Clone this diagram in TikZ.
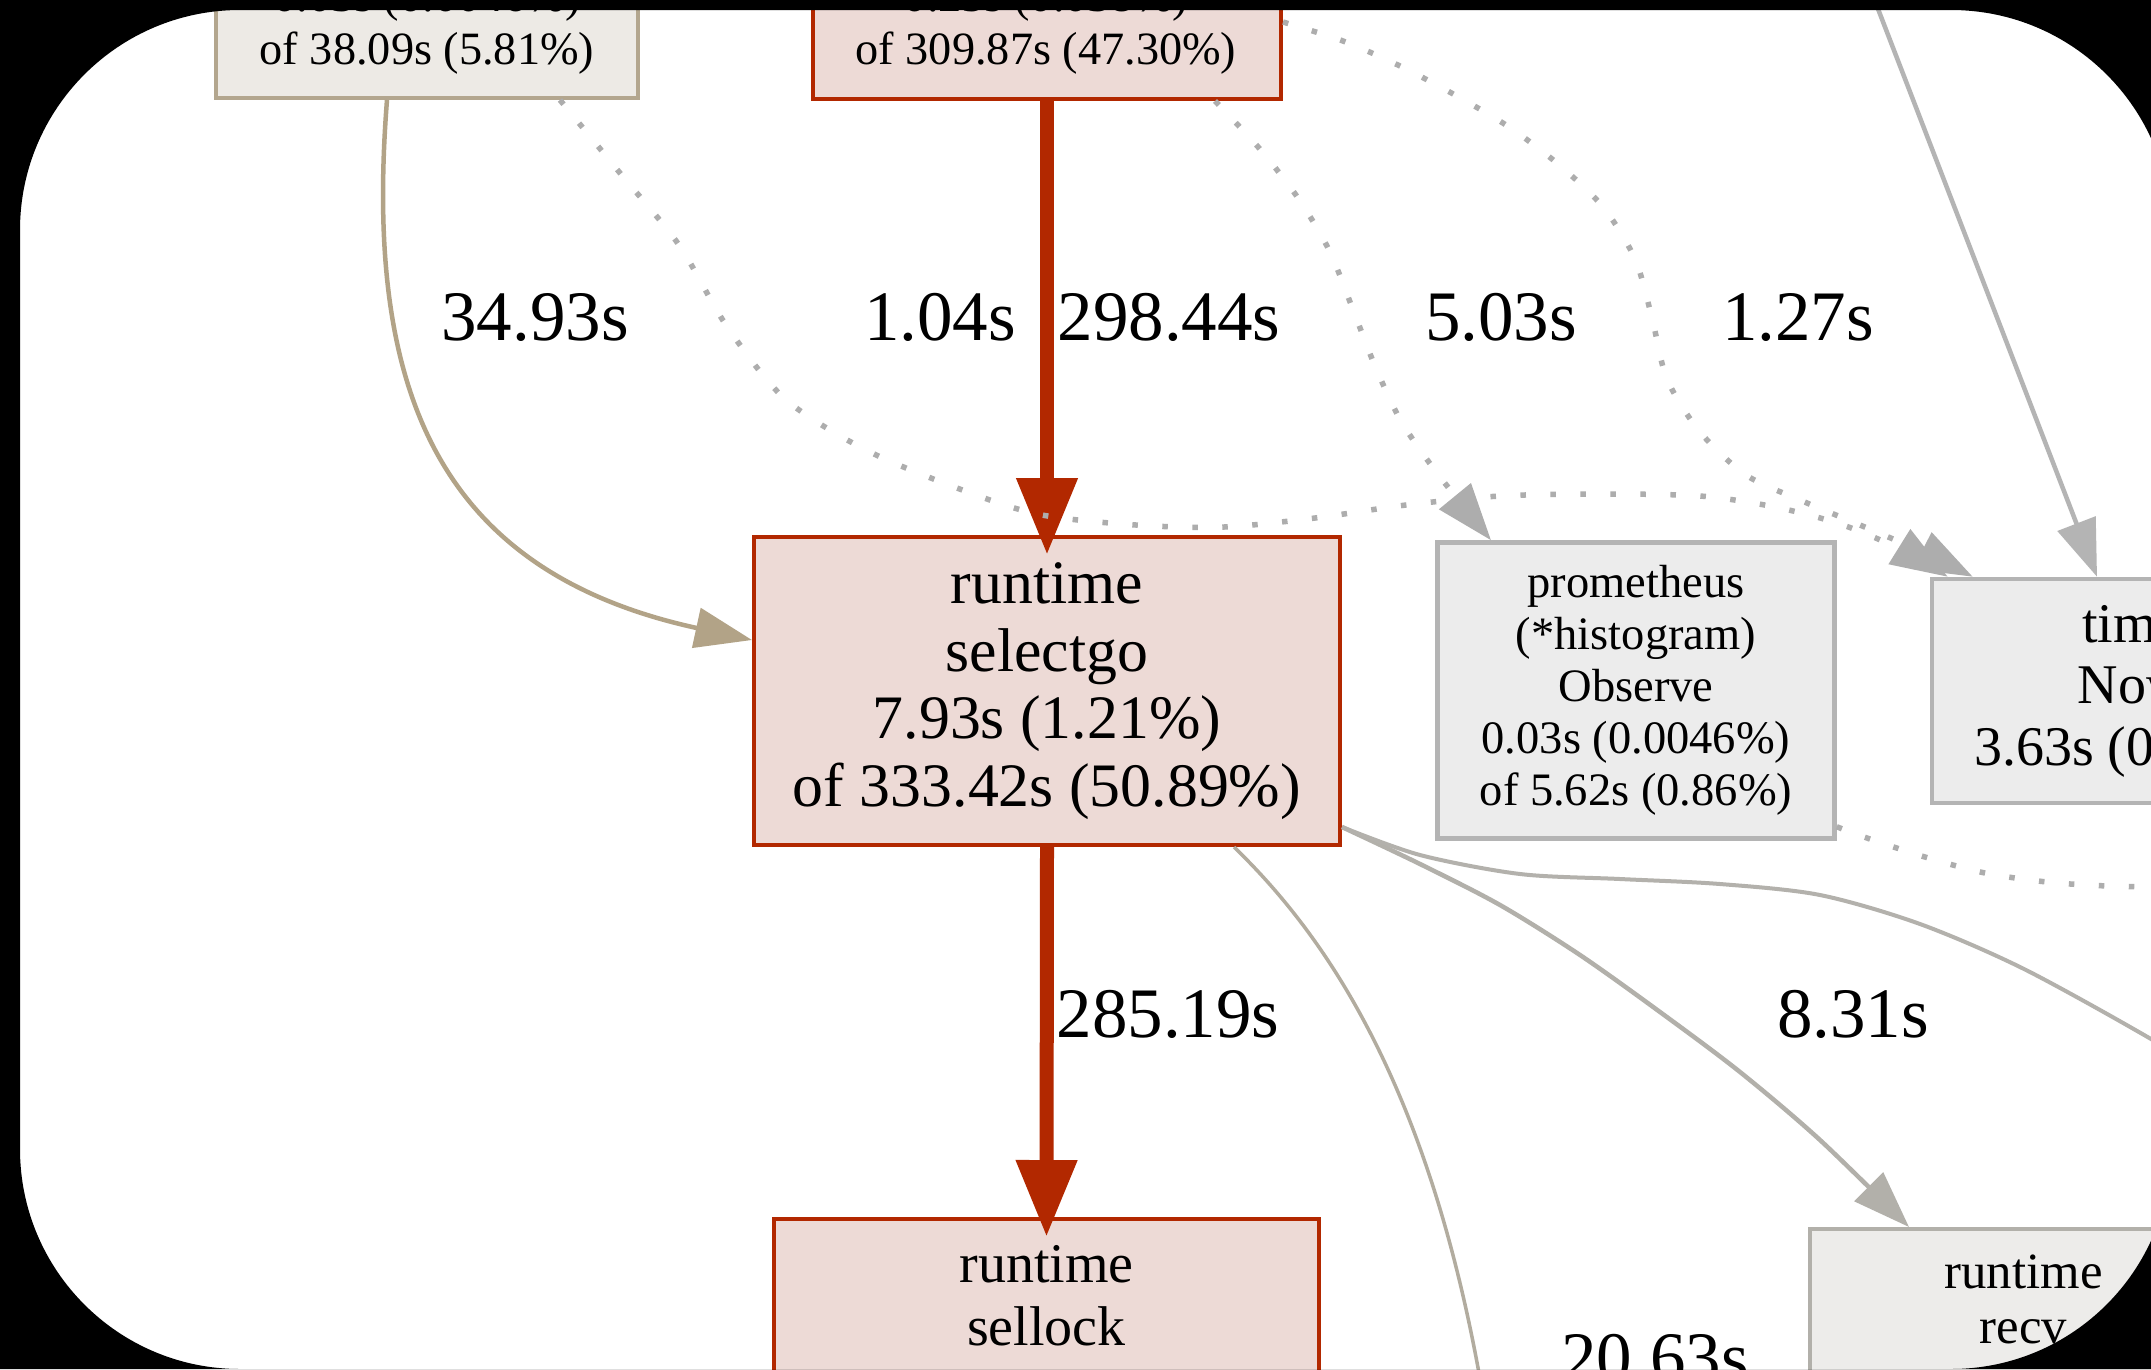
\documentclass[tikz,border=0pt]{standalone}
\usepackage{fontspec}
\setmainfont{Liberation Serif}
\usetikzlibrary{arrows.meta,calc}
\definecolor{hotred}{HTML}{B22800}
\definecolor{hotfill}{HTML}{EDDAD6}
\definecolor{tanline}{HTML}{B2A387}
\definecolor{tanborder}{HTML}{B3A68E}
\definecolor{tanfill}{HTML}{EDEAE5}
\definecolor{graytan}{HTML}{B2AC9F}
\definecolor{grayline}{HTML}{B2B0AA}
\definecolor{grayline2}{HTML}{B3B1AC}
\definecolor{lgray}{HTML}{B4B4B4}
\definecolor{dotgray}{HTML}{ADADAD}
\definecolor{grayfill}{HTML}{ECECEC}
\definecolor{recvfill}{HTML}{EDECEA}
\newcommand{\fsz}[2]{\fontsize{#1pt}{#2pt}\selectfont}
\begin{document}
\begin{tikzpicture}[x=1pt,y=-1pt,
  box/.style={rectangle, draw, inner sep=0pt, align=center},
  redbox/.style={box, draw=hotred, fill=hotfill, line width=4pt},
  tanbox/.style={box, draw=tanborder, fill=tanfill, line width=4pt},
  graybox/.style={box, draw=lgray, fill=grayfill, line width=4.5pt},
  recvbox/.style={box, draw=grayline, fill=recvfill, line width=4pt},
  txt/.style={inner sep=0pt, align=center},
  elabel/.style={inner sep=0pt, anchor=base, font=\fsz{71}{80}},
  hotedge/.style={draw=hotred, line width=14pt, -{Triangle[length=77pt,width=58pt]}, shorten >=-20pt},
  headg/.style={-{Triangle[length=57pt,width=40pt]}},
  dotedge/.style={draw=dotgray, line width=5.5pt, dash pattern=on 5.5pt off 24.5pt},
]
\useasboundingbox (0,0) rectangle (2151,1369);
\clip (0,0) rectangle (2151,1369);
\fill[white] (0,0) rectangle (2151,1369);

% ---------- nodes ----------
\node[tanbox, minimum width=422pt, minimum height=296pt] (tlbox) at (427,-50) {};
\node[txt, anchor=south, font=\fsz{46.3}{53}] (tltext) at (427,74.5) {0.03s (0.0046\%)\\of 38.09s (5.81\%)};

\node[redbox, minimum width=468pt, minimum height=296pt] (topC) at (1047,-49) {};
\node[txt, anchor=south, font=\fsz{46.3}{53}] (topCtext) at (1046,74.5) {0.25s (0.038\%)\\of 309.87s (47.30\%)};

\node[redbox, minimum width=586pt, minimum height=308pt, font=\fsz{61.8}{67.7}] (sel) at (1047,691)
  {runtime\\selectgo\\7.93s (1.21\%)\\of 333.42s (50.89\%)};

\node[graybox, minimum width=397pt, minimum height=296pt, font=\fsz{46.5}{52}] (prom) at (1636,690.5)
  {prometheus\\(*histogram)\\Observe\\0.03s (0.0046\%)\\of 5.62s (0.86\%)};

\node[graybox, minimum width=400pt, minimum height=224pt, font=\fsz{56}{61.5}] (tnow) at (2132,691)
  {time\\Now\\3.63s (0.55\%)};

\node[redbox, minimum width=545pt, minimum height=300pt] (sellock) at (1046.5,1369) {};
\node[txt, anchor=north, font=\fsz{56}{63}] (sellocktext) at (1046.5,1245) {runtime\\sellock};

\node[recvbox, minimum width=427pt, minimum height=300pt] (recv) at (2023.5,1379) {};
\node[txt, anchor=north, font=\fsz{50.8}{55}] (recvtext) at (2023.5,1254.5) {runtime\\recv};

% ---------- connector end points ----------
\coordinate (e1s) at ([xshift=-40pt]tlbox.south);
\coordinate (e1e) at ([yshift=-105pt]sel.north west);
\coordinate (e4s) at ([xshift=133pt]tlbox.south);
\coordinate (e4e) at ([xshift=18pt]tnow.north west);
\coordinate (e5s) at ([xshift=168pt]topC.south);
\coordinate (e5e) at ([xshift=-145pt]prom.north);
\coordinate (e6s) at ([yshift=79pt]topC.south east);
\coordinate (e6e) at ([xshift=43pt]tnow.north west);
\coordinate (e7e) at ([xshift=-35pt]tnow.north);
\coordinate (offTop) at (1836,-100);
\coordinate (e8s) at ([yshift=14pt]prom.south east);
\coordinate (offR1) at (2200,888);
\coordinate (e9s) at ([yshift=20pt]sel.south east);
\coordinate (e9e) at ([xshift=-114.5pt]recv.north);
\coordinate (offR2) at (2200,1072);
\coordinate (e11s) at ([xshift=187pt]sel.south);
\coordinate (offB) at (1490,1440);

% ---------- connectors ----------
\draw[hotedge] (topC.south) -- (sel.north);
\draw[hotedge] (sel.south) -- (sellock.north);

\draw[tanline, line width=4.5pt, headg] (e1s) .. controls (365,380) and (430,570) .. (e1e);

\draw[dotedge, headg] plot[smooth] coordinates
  {(e4s) (620,173) (679,245) (726,325) (784,398) (862,448) (949,485) (1037,514)
   (1136,525) (1224,527) (1315,518) (1406,505) (1500,496) (1600,494) (1700,496) (1775,507) (1840,524) (1900,549) (e4e)};

\draw[dotedge, headg] plot[smooth] coordinates
  {(e5s) (1259,148) (1298,198) (1329,250) (1352,307) (1375,366) (1401,421) (1437,473) (e5e)};

\draw[dotedge, headg] plot[smooth] coordinates
  {(e6s) (1343,41) (1400,66) (1455,95) (1509,127) (1558,164) (1603,207) (1635,259)
   (1652,318) (1667,379) (1700,432) (1746,475) (1800,500) (1860,525) (1925,553) (e6e)};

\draw[lgray, line width=4.5pt, headg] (offTop) -- (e7e);

\draw[dotedge] plot[smooth] coordinates
  {(e8s) (1867,838) (1925,857) (1985,873) (2047,882) (2108,886) (offR1)};

\draw[grayline, line width=4.5pt, headg] plot[smooth] coordinates
  {(e9s) (1420,864) (1500,905) (1580,955) (1660,1012) (1740,1072) (1820,1140) (e9e)};

\draw[grayline2, line width=4pt] plot[smooth] coordinates
  {(e9s) (1420,855) (1520,874) (1620,879) (1720,884) (1820,895) (1920,924) (2024,969) (2151,1039) (offR2)};

\draw[graytan, line width=3.5pt] (e11s) .. controls (1330,940) and (1440,1100) .. (offB);

% ---------- edge labels ----------
\node[elabel] (l3493) at (535,340) {34.93s};
\node[elabel] (l104) at (940,340) {1.04s};
\node[elabel] (l29844) at (1169,340) {298.44s};
\node[elabel] (l503) at (1501,340) {5.03s};
\node[elabel] (l127) at (1798,340) {1.27s};
\node[elabel] (l28519) at (1168,1037) {285.19s};
\node[elabel] (l831) at (1853,1037) {8.31s};
\node[elabel] (l2063) at (1655,1381) {20.63s};

% ---------- frame ----------
\fill[black, even odd rule] (0,0) rectangle (2151,1369)
  {[rounded corners=220pt] (20,10) rectangle (2171,1369)};
\end{tikzpicture}
\end{document}
